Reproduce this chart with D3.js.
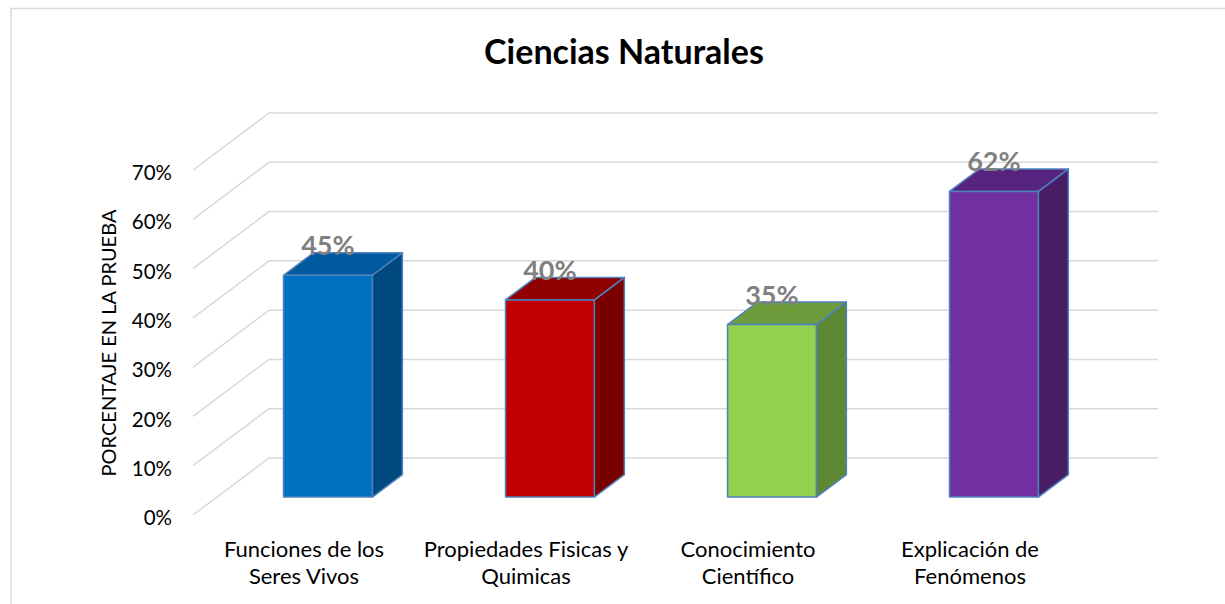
<!DOCTYPE html>
<html>
<head>
<meta charset="utf-8">
<script src="https://cdn.jsdelivr.net/npm/d3@7"></script>
<style>
  body { margin: 0; background: #fff; }
  svg { display: block; font-family: Lato, 'Open Sans', sans-serif; }
</style>
</head>
<body>
<svg id="chart" width="1225" height="604"></svg>
<script>
// chart data
const categories = [
  ['Funciones de los', 'Seres Vivos'],
  ['Propiedades Fisicas y', 'Quimicas'],
  ['Conocimiento', 'Científico'],
  ['Explicación de', 'Fenómenos']
]
const values = [45, 40, 35, 62]
const yTicks = [0, 10, 20, 30, 40, 50, 60, 70]
const frontColors = ['#0070C0', '#C00000', '#92D050', '#7030A0']
const topColors = ['#005A9E', '#900000', '#6E9C3C', '#562380']
const sideColors = ['#004A80', '#7A0000', '#5E8733', '#471E66']

const DEPTH = { dx: 76, dy: -57 } // floor depth
const Z_FRONT = 0.315,
  Z_BACK = 0.71

const svg = d3.select('#chart')

// chart border
svg
  .append('rect')
  .attr('x', 11)
  .attr('y', 8.5)
  .attr('width', 1300)
  .attr('height', 700)
  .attr('fill', 'none')
  .attr('stroke', '#D9D9D9')
  .attr('stroke-width', 1.5)

const scaleY = d3.scaleLinear().domain([0, 70]).range([515, 170])

const scaleX = d3
  .scaleBand()
  .domain(d3.range(categories.length))
  .range([193, 1081])
  .paddingInner(0.6)
  .paddingOuter(0.3)

// project a point (x, value, z) to the screen
function proj(x, v, z) {
  return [x + z * DEPTH.dx, scaleY(v) + z * DEPTH.dy]
}

function poly(pts) {
  return pts.map((p) => p.join(',')).join(' ')
}

// gridlines: slanted floor part + back wall part
svg
  .append('g')
  .selectAll('polyline')
  .data(yTicks)
  .enter()
  .append('polyline')
  .attr('points', (d) => poly([proj(193, d, 0), proj(193, d, 1), proj(1082, d, 1)]))
  .attr('fill', 'none')
  .attr('stroke', '#D9D9D9')
  .attr('stroke-width', 1.5)

// y tick labels
svg
  .append('g')
  .selectAll('text')
  .data(yTicks)
  .enter()
  .append('text')
  .attr('x', 172)
  .attr('y', (d) => scaleY(d) + 3)
  .attr('dy', '0.35em')
  .attr('text-anchor', 'end')
  .attr('font-size', 20.5)
  .attr('fill', '#000')
  .text((d) => d + '%')

// y axis title
svg
  .append('text')
  .attr('transform', 'translate(116,343) rotate(-90)')
  .attr('text-anchor', 'middle')
  .attr('font-size', 20)
  .attr('fill', '#000')
  .text('PORCENTAJE EN LA PRUEBA')

// bars
const bars = svg
  .append('g')
  .selectAll('g')
  .data(values)
  .enter()
  .append('g')

bars
  .append('polygon')
  .attr('points', function(d, i) {
    const x1 = scaleX(i) + scaleX.bandwidth()
    return poly([
      proj(x1, 0, Z_FRONT),
      proj(x1, d, Z_FRONT),
      proj(x1, d, Z_BACK),
      proj(x1, 0, Z_BACK)
    ])
  })
  .attr('fill', (d, i) => sideColors[i])

bars
  .append('polygon')
  .attr('points', function(d, i) {
    const x0 = scaleX(i),
      x1 = x0 + scaleX.bandwidth()
    return poly([
      proj(x0, d, Z_FRONT),
      proj(x1, d, Z_FRONT),
      proj(x1, d, Z_BACK),
      proj(x0, d, Z_BACK)
    ])
  })
  .attr('fill', (d, i) => topColors[i])

bars
  .append('polygon')
  .attr('points', function(d, i) {
    const x0 = scaleX(i),
      x1 = x0 + scaleX.bandwidth()
    return poly([
      proj(x0, 0, Z_FRONT),
      proj(x1, 0, Z_FRONT),
      proj(x1, d, Z_FRONT),
      proj(x0, d, Z_FRONT)
    ])
  })
  .attr('fill', (d, i) => frontColors[i])

bars
  .selectAll('polygon')
  .attr('stroke', '#4F81BD')
  .attr('stroke-width', 1.5)
  .attr('stroke-linejoin', 'round')

// data labels
bars
  .append('text')
  .attr('x', (d, i) => proj(scaleX(i) + scaleX.bandwidth() / 2, d, Z_FRONT)[0])
  .attr('y', (d) => proj(0, d, Z_FRONT)[1] - 20)
  .attr('text-anchor', 'middle')
  .attr('font-size', 27)
  .attr('font-weight', 'bold')
  .attr('fill', '#808080')
  .text((d) => d + '%')

// category labels
const cats = svg
  .append('g')
  .selectAll('text')
  .data(categories)
  .enter()
  .append('text')
  .attr('text-anchor', 'middle')
  .attr('font-size', 22)
  .attr('fill', '#000')

cats
  .selectAll('tspan')
  .data((d, i) => d.map((line) => ({ line: line, i: i })))
  .enter()
  .append('tspan')
  .attr('x', (d) => scaleX(d.i) + scaleX.bandwidth() / 2)
  .attr('y', (d, j) => 557 + j * 27)
  .text((d) => d.line)

// title
svg
  .append('text')
  .attr('x', 624)
  .attr('y', 64)
  .attr('text-anchor', 'middle')
  .attr('font-size', 34)
  .attr('font-weight', 'bold')
  .attr('fill', '#000')
  .text('Ciencias Naturales')
</script>
</body>
</html>
